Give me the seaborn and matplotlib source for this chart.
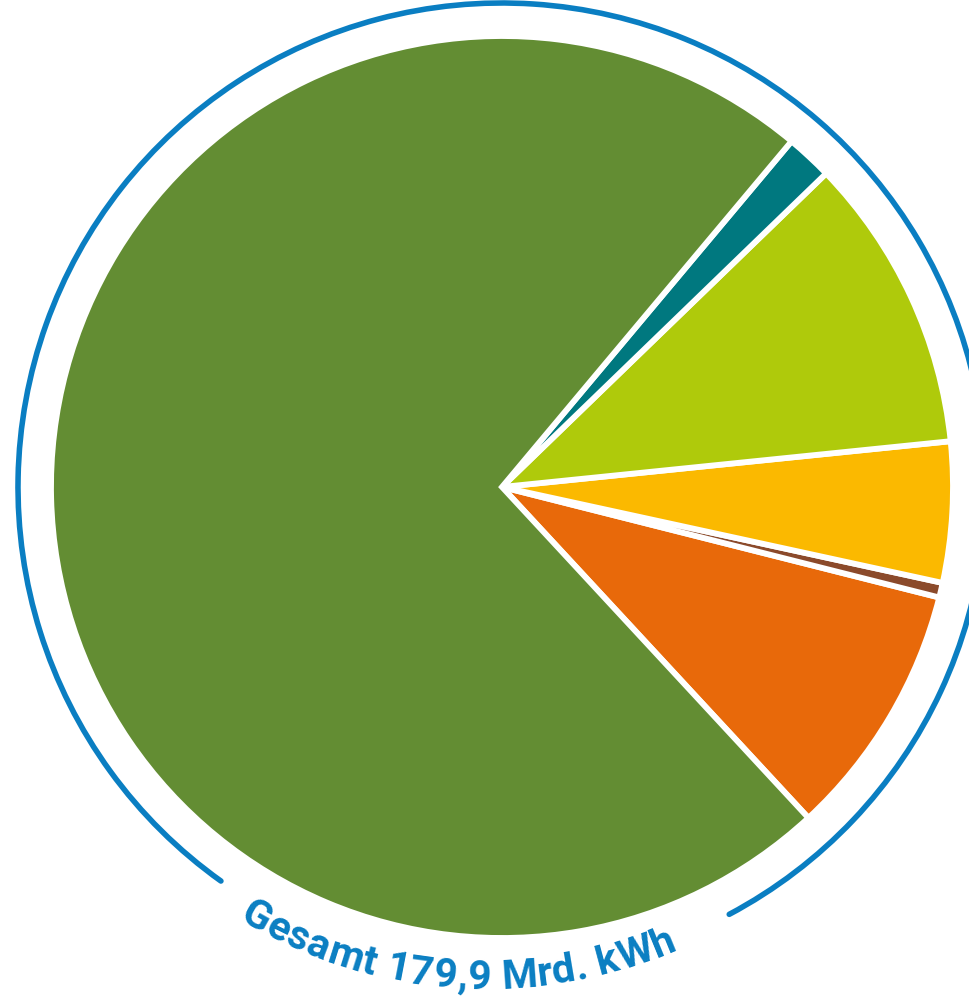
import numpy as np
import matplotlib
matplotlib.use("Agg")
import matplotlib.pyplot as plt
from matplotlib.patches import Arc
from matplotlib.font_manager import FontProperties
import seaborn as sns

# slices in Mrd. kWh, counterclockwise starting at the orange one
slice_names = ["Orange", "Braun", "Gelb", "Hellgrün", "Petrol", "Grün"]
slice_values = [16.5, 0.95, 9.05, 19.1, 3.0, 131.3]
slice_colors = ["#E8690A", "#8B4A2B", "#FBB900", "#AFCA0B", "#00787F", "#638D33"]

total_label = "Gesamt 179,9 Mrd. kWh"
ring_color = "#0A7EC2"

sns.set_theme(style="white")
plt.rcParams["font.family"] = ["Roboto", "DejaVu Sans"]

W, H = 969, 1003
fig = plt.figure(figsize=(W / 100, H / 100), dpi=100)
ax = fig.add_axes([0, 0, 1, 1])

ax.pie(
    slice_values,
    colors=sns.color_palette(slice_colors),
    startangle=-47.2,
    counterclock=True,
    radius=1.0,
    wedgeprops=dict(edgecolor="white", linewidth=4.2),
)

# 1 data unit = pie radius in pixels
scale = 451.0
cx, cy = 502, 488
ax.set_xlim(-cx / scale, (W - cx) / scale)
ax.set_ylim(-(H - cy) / scale, cy / scale)
ax.set_aspect("auto")
ax.axis("off")

# outer ring with a gap at the bottom for the label
ring_r = 484 / scale
ring = Arc((0, 0), 2 * ring_r, 2 * ring_r, theta1=-62.0, theta2=234.5,
           color=ring_color, lw=4.0, capstyle="round")
ax.add_patch(ring)

# curved label along the bottom (its arc sits a little lower/left than the pie)
fp = FontProperties(family=["Roboto", "DejaVu Sans"], weight="bold", size=29.5)
renderer = fig.canvas.get_renderer()

def text_w(s):
    return renderer.get_text_width_height_descent(s, fp, ismath=False)[0]

base = text_w("aa")
adv = [text_w("a" + c + "a") - base for c in total_label]

centers = []
pos = 0.0
for a in adv:
    centers.append(pos + a / 2)
    pos += a
centers = np.array(centers)

tx, ty = (486 - cx) / scale, (cy - 511) / scale
r_mid = 463.0
start_deg, end_deg = -119.5, -67.7
target = np.radians(end_deg - start_deg) * r_mid
natural = centers[-1] - centers[0]
track = (target - natural) / (len(total_label) - 1)
centers = centers + track * np.arange(len(total_label))

r_base = 478.0 / scale
for ch, s in zip(total_label, centers):
    if ch == " ":
        continue
    ang = np.radians(start_deg) + (s - centers[0]) / r_mid
    ax.text(tx + r_base * np.cos(ang), ty + r_base * np.sin(ang), ch,
            fontproperties=fp, color=ring_color,
            rotation=np.degrees(ang) + 90, rotation_mode="anchor",
            ha="center", va="baseline")

fig.savefig("out.png", dpi=100)
